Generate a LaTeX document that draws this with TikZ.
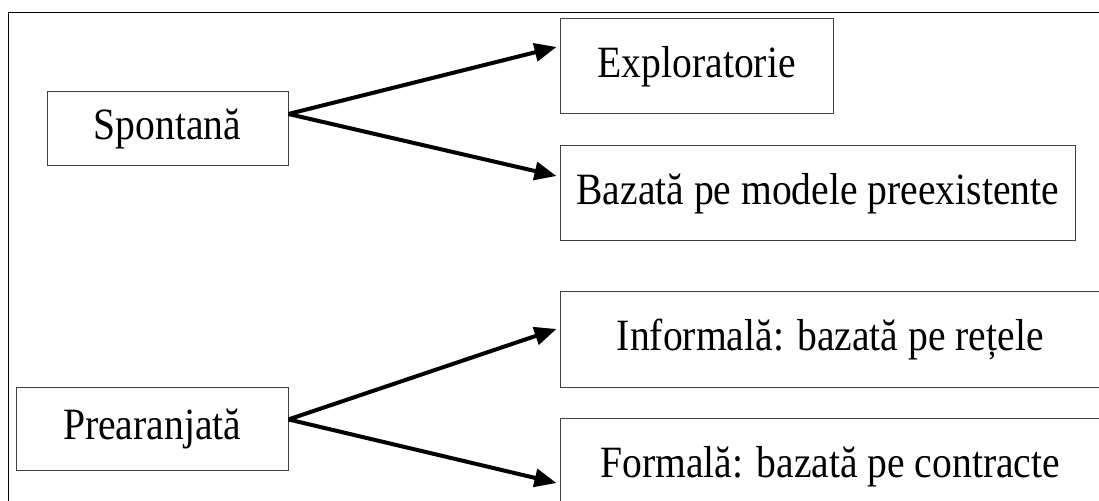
\documentclass[tikz,border=0pt]{standalone}
\usepackage{fontspec}
\usepackage{graphicx}
\setmainfont{Liberation Serif}
\usetikzlibrary{arrows.meta}
\newcommand\vstr[1]{\scalebox{1}[1.13]{#1}}
\tikzset{
  boxnode/.style={draw=black!75, line width=0.5pt, inner sep=0pt,
    font=\fontsize{19.8}{22}\selectfont},
  conn/.style={line width=2pt, -{Triangle[length=11pt,width=9pt]}},
}
\begin{document}
\begin{tikzpicture}[x=0.5pt,y=-0.5pt]
\useasboundingbox (0,0) rectangle (1099,501);
\clip (0,0) rectangle (1099,501);
\draw[line width=0.5pt] (8.5,13) rectangle (1130,540);
\node[boxnode, minimum width=120.5pt, minimum height=37pt] (sp) at (167.5,129) {\vstr{Spontană}};
\node[boxnode, minimum width=136.25pt, minimum height=47.5pt] (ex) at (696.75,66.5) {\vstr{Exploratorie}};
\node[boxnode, minimum width=257.25pt, minimum height=47.5pt] (bz) at (817.75,193.5) {\vstr{Bazată pe modele preexistente}};
\node[boxnode, minimum width=135.75pt, minimum height=41.75pt] (pr) at (152.25,429.25) {\vstr{Prearanjată}};
\node[boxnode, minimum width=269.75pt, minimum height=47.75pt] (inf) at (830.25,339.75) {\vstr{Informală: bazată pe rețele}};
\node[boxnode, minimum width=269.75pt, minimum height=48pt] (fo) at (830.25,467) {\vstr{Formală: bazată pe contracte}};
\coordinate (spo) at ([yshift=7.5pt]sp.east);
\coordinate (pro) at ([yshift=4.9pt]pr.east);
\coordinate (ext) at ([xshift=-1.75pt,yshift=9.75pt]ex.west);
\coordinate (bzt) at ([xshift=-1.75pt,yshift=8.75pt]bz.west);
\coordinate (inft) at ([xshift=-1.75pt,yshift=5.4pt]inf.west);
\coordinate (fot) at ([xshift=-1.75pt,yshift=-8pt]fo.west);
\draw[conn] (spo) -- (ext);
\draw[conn] (spo) -- (bzt);
\draw[conn] (pro) -- (inft);
\draw[conn] (pro) -- (fot);
\end{tikzpicture}
\end{document}
